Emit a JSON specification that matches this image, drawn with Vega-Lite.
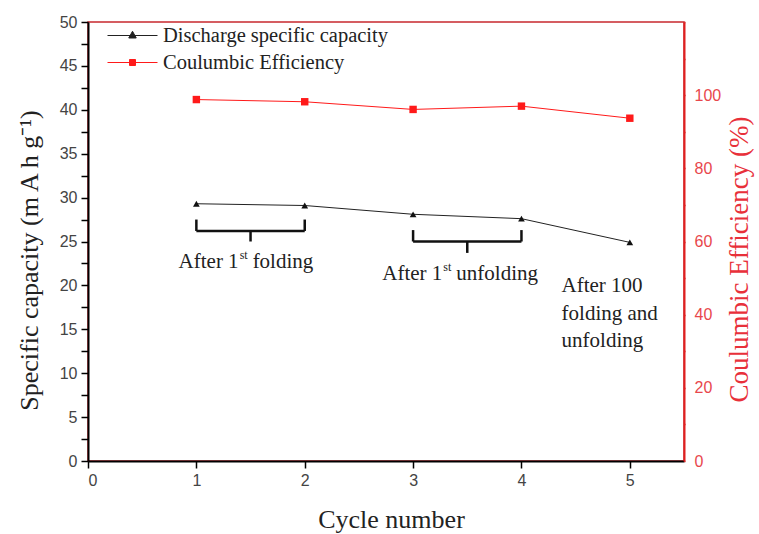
{
  "$schema": "https://vega.github.io/schema/vega-lite/v6.json",
  "width": 596,
  "height": 439,
  "autosize": {"type": "none"},
  "padding": {"left": 88, "top": 22, "right": 75, "bottom": 73},
  "background": "white",
  "config": {
    "view": {"stroke": "#c8282e", "strokeWidth": 1.5},
    "axis": {
      "labelFont": "Liberation Sans",
      "labelFontSize": 16,
      "labelColor": "#444",
      "titleFont": "Liberation Serif",
      "titleFontSize": 26,
      "titleFontWeight": "normal",
      "titleColor": "#222",
      "grid": false,
      "domainWidth": 2,
      "tickWidth": 1.5,
      "labelOverlap": false
    }
  },
  "datasets": {
    "cycles": [
      {"cycle": 1, "capacity": 29.3, "ce": 98.8},
      {"cycle": 2, "capacity": 29.1, "ce": 98.2},
      {"cycle": 3, "capacity": 28.1, "ce": 96.1},
      {"cycle": 4, "capacity": 27.6, "ce": 97.0},
      {"cycle": 5, "capacity": 24.9, "ce": 93.7}
    ],
    "braces": [
      {"x1": 1, "x2": 1, "y1": 27.5, "y2": 26.2},
      {"x1": 2, "x2": 2, "y1": 27.5, "y2": 26.2},
      {"x1": 1, "x2": 2, "y1": 26.2, "y2": 26.2},
      {"x1": 1.5, "x2": 1.5, "y1": 26.2, "y2": 25.0},
      {"x1": 3, "x2": 3, "y1": 26.3, "y2": 25.0},
      {"x1": 4, "x2": 4, "y1": 26.3, "y2": 25.0},
      {"x1": 3, "x2": 4, "y1": 25.0, "y2": 25.0},
      {"x1": 3.5, "x2": 3.5, "y1": 25.0, "y2": 23.7}
    ],
    "firsts": [
      {"x": 1.39, "y": 22.0, "pre": "After 1", "post": "folding"},
      {"x": 3.27, "y": 20.6, "pre": "After 1", "post": "unfolding"}
    ],
    "lastnote": [
      {"x": 4.37, "y": 19.2, "t": "After 100"},
      {"x": 4.37, "y": 16.1, "t": "folding and"},
      {"x": 4.37, "y": 13.0, "t": "unfolding"}
    ]
  },
  "layer": [
    {
      "data": {"name": "cycles"},
      "mark": {"type": "line", "strokeWidth": 1, "color": "#333"},
      "encoding": {
        "x": {
          "field": "cycle", "type": "quantitative",
          "scale": {"domain": [0, 5.5], "nice": false, "zero": false},
          "axis": {
            "title": "Cycle number",
            "titleY": 66,
            "titleX": 303,
            "titleBaseline": "alphabetic",
            "values": [0, 0.5, 1, 1.5, 2, 2.5, 3, 3.5, 4, 4.5, 5],
            "labelExpr": "datum.value % 1 === 0 ? datum.label : ''",
            "format": "d",
            "domainColor": "#000",
            "tickColor": "#000",
            "tickSize": 7,
            "labelPadding": 4,
            "encode": {"ticks": {"update": {"y2": {"signal": "datum.value % 1 === 0 ? 7 : 4"}}}}
          }
        },
        "y": {
          "field": "capacity", "type": "quantitative",
          "scale": {"domain": [0, 50], "nice": false},
          "axis": {
            "title": "Specific capacity (m A h  g⁻¹)",
            "titleY": 238,
            "titlePadding": 17,
            "values": [0, 2.5, 5, 7.5, 10, 12.5, 15, 17.5, 20, 22.5, 25, 27.5, 30, 32.5, 35, 37.5, 40, 42.5, 45, 47.5, 50],
            "labelExpr": "datum.value % 5 === 0 ? datum.label : ''",
            "format": "d",
            "domainColor": "#000",
            "tickColor": "#000",
            "tickSize": 7,
            "labelPadding": 4,
            "encode": {"ticks": {"update": {"x2": {"signal": "datum.value % 5 === 0 ? -7 : -4"}}}}
          }
        },
        "color": {
          "datum": "Discharge specific capacity",
          "type": "nominal",
          "scale": {"domain": ["Discharge specific capacity", "Coulumbic Efficiency"], "range": ["#222", "#ff1a1a"]},
          "legend": {
            "title": null,
            "orient": "none",
            "legendX": 19,
            "legendY": 0,
            "padding": 0,
            "symbolSize": 2500,
            "clipHeight": 27,
            "rowPadding": 0,
            "labelOffset": 5,
            "labelLimit": 0,
            "labelFont": "Liberation Serif",
            "labelFontSize": 20.5,
            "labelColor": "#222",
            "encode": {
              "symbols": {
                "update": {
                  "shape": {"signal": "datum.value === 'Coulumbic Efficiency' ? 'M-1,0H1M-0.12,-0.12H0.12V0.12H-0.12Z' : 'M-1,0H1M0,-0.17L0.15,0.1L-0.15,0.1Z'"},
                  "fill": {"signal": "datum.value === 'Coulumbic Efficiency' ? '#ff1a1a' : '#222'"},
                  "stroke": {"signal": "datum.value === 'Coulumbic Efficiency' ? '#ff1a1a' : '#222'"},
                  "strokeWidth": {"value": 1},
                  "opacity": {"value": 1}
                }
              }
            }
          }
        }
      }
    },
    {
      "data": {"name": "cycles"},
      "mark": {"type": "point", "shape": "triangle-up", "filled": true, "size": 45, "color": "#111", "opacity": 1},
      "encoding": {
        "x": {"field": "cycle", "type": "quantitative"},
        "y": {"field": "capacity", "type": "quantitative", "scale": {"domain": [0, 50], "nice": false}, "axis": null}
      }
    },
    {
      "data": {"name": "braces"},
      "mark": {"type": "rule", "strokeWidth": 2.5, "color": "#111"},
      "encoding": {
        "x": {"field": "x1", "type": "quantitative"},
        "x2": {"field": "x2"},
        "y": {"field": "y1", "type": "quantitative", "scale": {"domain": [0, 50], "nice": false}, "axis": null},
        "y2": {"field": "y2"}
      }
    },
    {
      "data": {"name": "firsts"},
      "mark": {"type": "text", "align": "right", "baseline": "alphabetic", "font": "Liberation Serif", "fontSize": 21, "color": "#222"},
      "encoding": {
        "x": {"field": "x", "type": "quantitative"},
        "y": {"field": "y", "type": "quantitative", "scale": {"domain": [0, 50], "nice": false}, "axis": null},
        "text": {"field": "pre"}
      }
    },
    {
      "data": {"name": "firsts"},
      "mark": {"type": "text", "align": "left", "baseline": "alphabetic", "font": "Liberation Serif", "fontSize": 12, "color": "#222", "dx": 1, "dy": -9, "text": "st"},
      "encoding": {
        "x": {"field": "x", "type": "quantitative"},
        "y": {"field": "y", "type": "quantitative", "scale": {"domain": [0, 50], "nice": false}, "axis": null}
      }
    },
    {
      "data": {"name": "firsts"},
      "mark": {"type": "text", "align": "left", "baseline": "alphabetic", "font": "Liberation Serif", "fontSize": 21, "color": "#222", "dx": 14},
      "encoding": {
        "x": {"field": "x", "type": "quantitative"},
        "y": {"field": "y", "type": "quantitative", "scale": {"domain": [0, 50], "nice": false}, "axis": null},
        "text": {"field": "post"}
      }
    },
    {
      "data": {"name": "lastnote"},
      "mark": {"type": "text", "align": "left", "baseline": "alphabetic", "font": "Liberation Serif", "fontSize": 21, "color": "#222"},
      "encoding": {
        "x": {"field": "x", "type": "quantitative"},
        "y": {"field": "y", "type": "quantitative", "scale": {"domain": [0, 50], "nice": false}, "axis": null},
        "text": {"field": "t"}
      }
    },
    {
      "data": {"name": "cycles"},
      "mark": {"type": "line", "strokeWidth": 1, "color": "#ff1a1a"},
      "encoding": {
        "x": {"field": "cycle", "type": "quantitative"},
        "y": {
          "field": "ce", "type": "quantitative",
          "scale": {"domain": [0, 120], "nice": false},
          "axis": {
            "orient": "right",
            "title": "Coulumbic Efficiency (%)",
            "titleColor": "#e8303a",
            "titleFontSize": 27,
            "titleAngle": 270,
            "titleBaseline": "top",
            "titleY": 237,
            "titlePadding": 6,
            "values": [0, 10, 20, 30, 40, 50, 60, 70, 80, 90, 100, 110, 120],
            "labelExpr": "datum.value % 20 === 0 && datum.value < 110 ? datum.label : ''",
            "format": "d",
            "labelColor": "#e8474c",
            "domainColor": "#e02020",
            "tickColor": "#e02020",
            "tickSize": 1,
            "labelPadding": 9,
            "encode": {"ticks": {"update": {"x2": {"signal": "datum.value % 20 === 0 ? -8 : -5"}}}}
          }
        },
        "color": {"datum": "Coulumbic Efficiency", "type": "nominal"}
      }
    },
    {
      "data": {"name": "cycles"},
      "mark": {"type": "point", "shape": "square", "filled": true, "size": 55, "color": "#ff1a1a", "opacity": 1},
      "encoding": {
        "x": {"field": "cycle", "type": "quantitative"},
        "y": {"field": "ce", "type": "quantitative", "scale": {"domain": [0, 120], "nice": false}, "axis": null}
      }
    }
  ],
  "resolve": {"scale": {"y": "independent"}}
}
